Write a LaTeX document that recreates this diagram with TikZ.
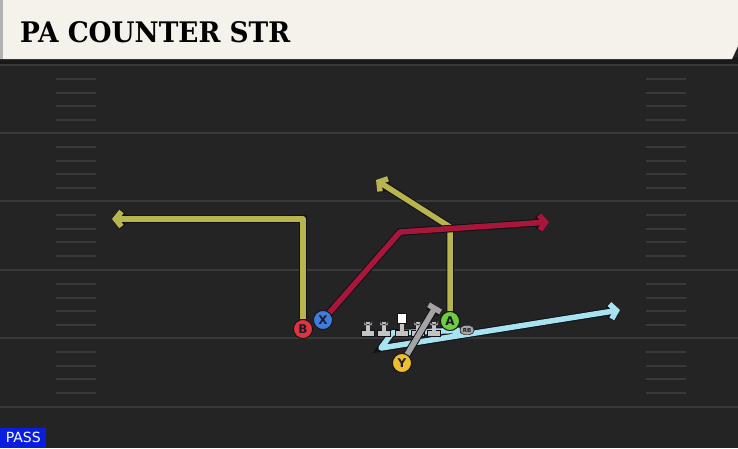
\documentclass[tikz,border=0pt]{standalone}
\usepackage{fontspec}
\setmainfont{DejaVu Sans}
\newfontfamily\titlefont{DejaVu Serif}
\usetikzlibrary{arrows.meta, positioning, shapes.misc}

\definecolor{fieldbg}{HTML}{242424}
\definecolor{fieldline}{HTML}{3A3A3A}
\definecolor{titlebg}{HTML}{F5F2EB}
\definecolor{routeedge}{HTML}{101018}
\definecolor{yroute}{HTML}{B8B54E}
\definecolor{rroute}{HTML}{A8173A}
\definecolor{broute}{HTML}{A8E3F1}
\definecolor{groute}{HTML}{A3A3A3}
\definecolor{bred}{HTML}{DE3440}
\definecolor{xblue}{HTML}{3F7DDA}
\definecolor{agreen}{HTML}{6CD03E}
\definecolor{yyellow}{HTML}{EEBE2E}
\definecolor{lettercol}{HTML}{1C1C2C}
\definecolor{olcol}{HTML}{C4C4C4}
\definecolor{passblue}{HTML}{0A1EE0}

\pgfdeclarelayer{field}
\pgfdeclarelayer{routes}
\pgfsetlayers{field,routes,main}

\tikzset{
  majorline/.style={draw=fieldline, line width=2pt},
  hashline/.style={draw=fieldline, line width=1.6pt},
  route/.style={line width=5.5pt, line join=round,
    preaction={draw=routeedge, line width=7.5pt}},
  runto/.style={-{Straight Barb[length=6pt, width=15pt]}},
  player/.style={circle, draw=routeedge, line width=0.8pt, minimum size=19pt,
    inner sep=0pt, text=lettercol, font=\fontsize{12}{12}\selectfont\bfseries},
  badge/.style={rounded rectangle, fill=gray!70, draw=routeedge, line width=0.4pt,
    minimum width=15pt, minimum height=9pt, inner sep=0.5pt, text=lettercol,
    font=\fontsize{5.5}{5.5}\selectfont\bfseries},
  passbox/.style={fill=passblue, text=white, minimum width=46pt, minimum height=20pt,
    inner sep=0pt, font=\fontsize{14}{14}\selectfont},
}

\begin{document}
\begin{tikzpicture}[x=1pt, y=-1pt]
  \useasboundingbox (0,0) rectangle (738,448);

  \begin{pgfonlayer}{field}
    % Field and yard lines
    \fill[fieldbg] (0,0) rectangle (738,448);
    \foreach \L in {65,133,201,270,338} {
      \draw[majorline] (0,\L) -- (738,\L);
      \foreach \d in {14,28,41,55} {
        \draw[hashline] (56,\L+\d) -- (96,\L+\d);
        \draw[hashline] (646,\L+\d) -- (686,\L+\d);
      }
    }
    \draw[majorline] (0,407) -- (738,407);

    % Title bar
    \fill[black!90] (0,57) rectangle (738,64);
    \fill[titlebg] (0,0) -- (738,0) -- (738,46) -- (732,59) -- (0,59) -- cycle;
    \fill[gray!60] (0,0) rectangle (3,59);
  \end{pgfonlayer}

  \node[anchor=west, inner sep=0pt] (title) at (20,32.5)
    {\resizebox{270pt}{21pt}{\titlefont\bfseries PA COUNTER STR}};

  % Players
  \node[player, fill=bred] (B) at (303,329) {B};
  \node[player, fill=xblue] (X) at (323,320) {X};
  \node[player, fill=agreen] (A) at (450,321) {A};
  \node[player, fill=yyellow] (Y) at (402,363) {Y};
  \node[badge] (RB) at (467,330) {RB};

  % Route points
  \coordinate (bcut) at (303,219);
  \coordinate (bend) at (112,219);
  \coordinate (xbreak) at (400,232);
  \coordinate (xend) at (549,222);
  \coordinate (abreak) at (450,227);
  \coordinate (aend) at (376,180);
  \coordinate (rbfake) at (392,333);
  \coordinate (rbdip) at (381,348);
  \coordinate (rbend) at (620,310);
  \coordinate (yblock) at (436,306);

  \begin{pgfonlayer}{routes}
    \draw[route, yroute, runto] (B) -- (bcut) -- (bend);
    \draw[route, yroute, runto] (A) -- (abreak) -- (aend);
    \draw[route, rroute, runto] (X) -- (xbreak) -- (xend);
    \draw[route, broute, runto] (RB) -- (rbfake) -- (rbdip) -- (rbend);
  \end{pgfonlayer}

  % Offensive line
  \foreach \x [count=\i] in {368,384,418,434} {
    \coordinate (ol\i) at (\x,320);
    \fill[olcol, draw=routeedge, line width=0.3pt] (\x-6.5,330) rectangle (\x+6.5,336);
    \fill[olcol] (\x-2,322) rectangle (\x+2,331);
    \fill[olcol, draw=routeedge, line width=0.3pt]
      (\x-4,325) -- (\x-4,320.5) arc (180:0:4) -- (\x+4,325) -- cycle;
  }
  \coordinate (center) at (402,318);
  \fill[olcol, draw=routeedge, line width=0.3pt] (395.5,330) rectangle (408.5,336);
  \fill[olcol] (400,322) rectangle (404,331);
  \fill[white, draw=routeedge, line width=0.3pt] (397.5,313.5) rectangle (406.5,323);

  % Tight end block
  \draw[route, groute, -{Bar[width=14pt]}] (Y) -- (yblock);
  \node[player, fill=agreen] at (A) {A};
  \node[player, fill=yyellow] at (Y) {Y};
  \node[badge] at (RB) {RB};

  \node[passbox, anchor=south west] (pass) at (0,448) {PASS};
\end{tikzpicture}
\end{document}
